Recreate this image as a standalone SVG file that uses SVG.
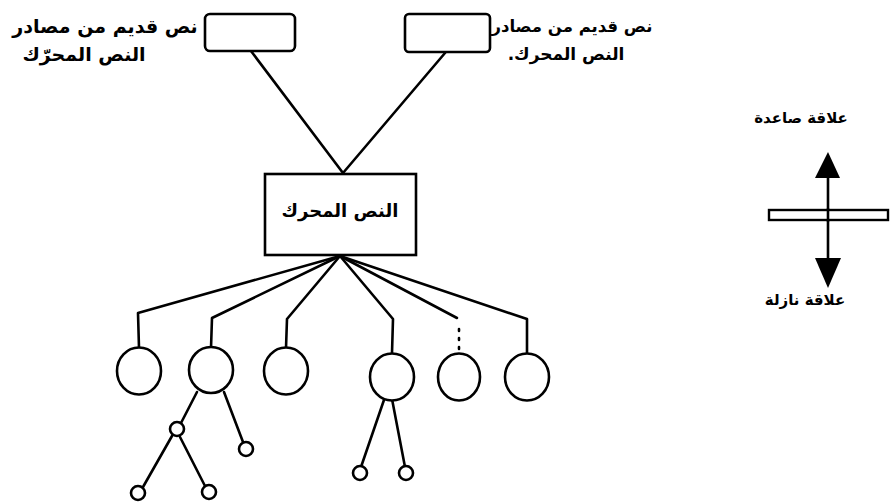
<svg xmlns="http://www.w3.org/2000/svg" width="891" height="504" viewBox="0 0 891 504">
<style>
.ln{fill:none;stroke:#000;stroke-width:2.6;stroke-linecap:round;stroke-linejoin:round}
.nd{fill:#fff;stroke:#000;stroke-width:2.6}
.tx{font-family:"DejaVu Sans",sans-serif;fill:#000;font-weight:bold;text-anchor:middle}
</style>
<rect width="891" height="504" fill="#fff"/>
<g id="connectors">
<path class="ln" d="M251,51 L343,173 L445,53"/>
<path class="ln" d="M340,256 L138,313 L139,348"/>
<path class="ln" d="M340,256 L212,318 L211,348"/>
<path class="ln" d="M340,256 L287,319 L286,348"/>
<path class="ln" d="M340,256 L393,319 L392,353"/>
<path class="ln" d="M340,256 L457,318"/>
<path class="ln" d="M459,329 L459,354" stroke-dasharray="2 7" stroke-width="1.6"/>
<path class="ln" d="M340,256 L527,319 L527,353"/>
<path class="ln" d="M197,392 L181,423"/>
<path class="ln" d="M224,392 L243,442"/>
<path class="ln" d="M172,436 L143,487"/>
<path class="ln" d="M180,437 L205,486"/>
<path class="ln" d="M385,397 L361,467"/>
<path class="ln" d="M392,399 L405,467"/>
</g>
<g id="src-left">
<rect class="nd" x="205" y="14" width="90" height="37" rx="5"/>
<text class="tx" x="105" y="33" font-size="19" direction="rtl">نص قديم من مصادر</text>
<text class="tx" x="84" y="61" font-size="19" direction="rtl">النص المحرّك</text>
</g>
<g id="src-right">
<rect class="nd" x="405" y="14" width="85" height="38" rx="4"/>
<text class="tx" x="572" y="32" font-size="16.5" direction="rtl">نص قديم من مصادر</text>
<text class="tx" x="566" y="60" font-size="17" direction="rtl">النص المحرك.</text>
</g>
<g id="center">
<rect class="nd" x="265" y="174" width="151" height="81"/>
<text class="tx" x="340" y="217" font-size="18" direction="rtl">النص المحرك</text>
</g>
<g id="children">
<ellipse class="nd" cx="139" cy="371" rx="22" ry="23.5"/>
<ellipse class="nd" cx="211" cy="370" rx="22" ry="23"/>
<ellipse class="nd" cx="286" cy="371" rx="22" ry="23.5"/>
<ellipse class="nd" cx="392" cy="377" rx="22" ry="23.5"/>
<ellipse class="nd" cx="459" cy="377" rx="21" ry="23.5"/>
<ellipse class="nd" cx="527" cy="377" rx="22" ry="23.5"/>
</g>
<g id="grandchildren">
<circle class="nd" cx="177" cy="429" r="7"/>
<circle class="nd" cx="246" cy="449" r="7"/>
<circle class="nd" cx="138" cy="493" r="7"/>
<circle class="nd" cx="209" cy="492" r="7"/>
<circle class="nd" cx="360" cy="473" r="7"/>
<circle class="nd" cx="406" cy="473" r="7"/>
</g>
<g id="legend">
<text class="tx" x="801" y="123" font-size="15" direction="rtl">علاقة صاعدة</text>
<line class="ln" x1="828" y1="170" x2="828" y2="262" stroke-width="3"/>
<polygon points="828,152 815,178 840,178" fill="#000"/>
<rect x="769" y="210" width="119" height="10" fill="#fff" stroke="#000" stroke-width="2.4"/>
<line class="ln" x1="828" y1="209" x2="828" y2="221" stroke-width="3"/>
<polygon points="815,258 841,258 828,288" fill="#000"/>
<text class="tx" x="805" y="305" font-size="15" direction="rtl">علاقة نازلة</text>
</g>
</svg>
